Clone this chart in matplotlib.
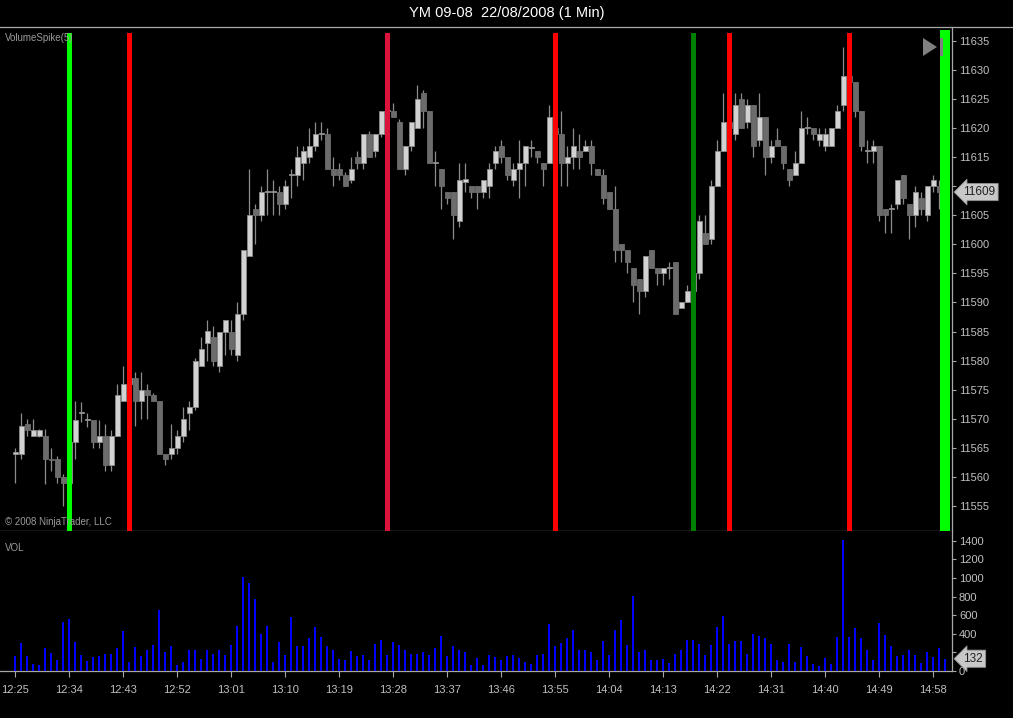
import matplotlib.pyplot as plt
from matplotlib.lines import Line2D
from matplotlib.patches import Polygon, Rectangle
import numpy as np

title = "YM 09-08  22/08/2008 (1 Min)"

# one-minute bars 12:25 .. 15:00
opens = [11564, 11564, 11569, 11567, 11567, 11567, 11563, 11563, 11560, 11559,
         11566, 11571, 11569.8, 11569.8, 11566, 11567, 11562, 11567, 11573, 11576,
         11577, 11573, 11575, 11574, 11573, 11564, 11564, 11565, 11567, 11571,
         11572, 11579, 11583, 11584, 11579, 11585, 11585, 11581, 11588, 11598,
         11606, 11605, 11609, 11609, 11609, 11607, 11612, 11612, 11614, 11615,
         11617, 11619, 11619, 11613, 11613, 11612, 11611, 11615, 11614, 11619,
         11616, 11619, 11623, 11623, 11621, 11613, 11617, 11620, 11626, 11623,
         11614, 11613, 11609, 11609, 11604, 11610.8, 11610, 11610, 11609, 11610,
         11614, 11617, 11615, 11611, 11613, 11614, 11616.5, 11616, 11614, 11614,
         11620, 11619, 11614, 11615, 11616, 11616, 11617, 11613, 11612, 11609,
         11606, 11600, 11599, 11596, 11594, 11592, 11599, 11596, 11595, 11596,
         11597, 11589, 11590, 11592, 11595, 11602, 11601, 11610, 11616, 11621,
         11619, 11625, 11621, 11624, 11618, 11622, 11615, 11618, 11617, 11613,
         11612, 11614, 11620, 11620, 11618, 11617, 11617, 11620, 11624, 11629,
         11628, 11623, 11616, 11616, 11617, 11606, 11606, 11607, 11612, 11607,
         11605, 11608, 11605, 11610, 11610, 11607]
highs = [11565, 11571, 11570, 11570, 11568.2, 11568.2, 11565, 11563.5, 11560.5, 11566.5,
         11573, 11572.8, 11571, 11569.8, 11569.8, 11569, 11568, 11576, 11579, 11579,
         11578, 11578, 11576, 11574.5, 11573, 11564, 11569, 11568, 11572, 11573,
         11580.5, 11584, 11587, 11586, 11585, 11587, 11587, 11590, 11599, 11613,
         11607, 11610, 11613, 11611, 11610, 11611, 11613, 11617, 11617, 11620,
         11621, 11621, 11620, 11615, 11614, 11612.5, 11615, 11616, 11619, 11619.5,
         11619, 11623, 11624.3, 11624.3, 11621.5, 11617, 11621, 11627.4, 11626.5, 11623,
         11616, 11613, 11609, 11609, 11614, 11614, 11610, 11610, 11611, 11614,
         11617, 11618, 11615, 11614, 11618, 11617, 11618, 11616, 11614, 11624,
         11623, 11623, 11617, 11620, 11619, 11618, 11618, 11613, 11613, 11609,
         11610, 11600, 11599, 11596, 11594, 11598, 11599, 11596, 11596, 11597,
         11597, 11590, 11593, 11596, 11605, 11605, 11611, 11618, 11626, 11626,
         11626, 11626, 11625, 11624, 11626, 11622, 11618, 11620, 11617, 11613,
         11616, 11623, 11622, 11620, 11620, 11620, 11620, 11624, 11634, 11632,
         11628, 11623, 11618, 11618, 11617, 11606, 11607, 11611, 11612, 11607,
         11610, 11609, 11610, 11612, 11611, 11612]
lows = [11559, 11563, 11567, 11567, 11566.9, 11558.8, 11561, 11559, 11555, 11557.5,
        11563, 11569.5, 11568.5, 11565, 11565, 11561, 11561, 11567, 11573, 11573,
        11568.7, 11570, 11570, 11573, 11564, 11562, 11563, 11564, 11566, 11568,
        11571.5, 11579, 11580, 11579, 11578, 11581, 11581, 11580, 11587, 11598,
        11600, 11604, 11605, 11605, 11605, 11606, 11608, 11610, 11611, 11614,
        11616, 11618, 11613, 11610, 11611, 11610, 11610.5, 11613, 11613, 11615,
        11615, 11618.5, 11621, 11622, 11613, 11612, 11616, 11620, 11620, 11614,
        11610, 11606, 11607, 11601, 11603, 11609, 11608, 11606, 11608, 11608,
        11613, 11614, 11611, 11610, 11608, 11610, 11615, 11614, 11610, 11614,
        11618, 11610, 11610, 11613, 11613, 11616, 11612, 11612, 11607, 11606,
        11597, 11597, 11595, 11590, 11588, 11591, 11596, 11593, 11593, 11594,
        11588, 11589, 11590, 11590, 11594, 11600, 11600, 11610, 11616, 11620,
        11618, 11620, 11620, 11615, 11617, 11612, 11614, 11617, 11613, 11610,
        11612, 11614, 11619, 11618, 11617, 11616, 11617, 11620, 11623, 11627,
        11622, 11616, 11614, 11614, 11604, 11602, 11602, 11606, 11607, 11601,
        11603, 11605, 11604, 11609, 11606, 11606]
closes = [11564, 11568.7, 11568, 11568, 11568, 11563, 11562.8, 11560, 11559, 11566,
          11569.8, 11571, 11569.8, 11566, 11567, 11562, 11567, 11574, 11576, 11577,
          11573, 11575, 11574, 11573, 11564, 11563, 11565, 11567, 11570, 11572,
          11580, 11582, 11585, 11580, 11585, 11587, 11582, 11588, 11599, 11605,
          11605, 11609, 11609, 11609, 11607, 11610, 11612, 11615, 11616, 11617,
          11619, 11619, 11613, 11612, 11612, 11610, 11613, 11614, 11619, 11615,
          11619, 11623, 11623, 11622, 11613, 11617, 11621, 11625, 11623, 11614,
          11614, 11610, 11608, 11605, 11611, 11611.2, 11609, 11609, 11611, 11613,
          11616, 11615, 11612, 11613, 11614, 11617, 11616.5, 11615, 11613, 11622,
          11619, 11614, 11615, 11617, 11615, 11617, 11614, 11612, 11608, 11606,
          11599, 11599, 11597, 11593, 11592, 11598, 11596, 11595, 11596, 11596,
          11588, 11590, 11592, 11595, 11604, 11600, 11610, 11616, 11621, 11620,
          11624, 11620, 11624, 11617, 11622, 11615, 11617, 11617, 11614, 11611,
          11614, 11620, 11620, 11619, 11619, 11619, 11620, 11623, 11629, 11628,
          11623, 11617, 11616, 11617, 11605, 11605, 11606, 11611, 11608, 11605,
          11609, 11606, 11610, 11611, 11609, 11609]
volumes = [164, 300, 164, 79, 68, 246, 193, 121, 528, 564,
           314, 175, 111, 154, 164, 186, 179, 246, 425, 93,
           253, 157, 221, 282, 657, 200, 264, 68, 93, 228,
           228, 132, 228, 186, 228, 175, 282, 486, 1014, 950,
           771, 400, 486, 100, 307, 175, 585, 271, 264, 353,
           468, 364, 271, 228, 132, 121, 210, 157, 175, 121,
           293, 328, 175, 307, 282, 228, 186, 186, 200, 175,
           246, 371, 164, 264, 228, 207, 68, 143, 68, 171,
           150, 121, 157, 171, 143, 96, 79, 175, 186, 503,
           271, 300, 350, 443, 228, 228, 207, 121, 318, 175,
           443, 543, 282, 807, 207, 228, 114, 121, 132, 86,
           186, 228, 336, 328, 293, 175, 282, 468, 593, 293,
           325, 318, 186, 400, 371, 350, 293, 114, 100, 286,
           100, 257, 157, 79, 57, 143, 79, 361, 1407, 361,
           457, 350, 221, 114, 521, 389, 271, 157, 175, 228,
           175, 86, 200, 146, 250, 132]

time_labels = ["12:25", "12:34", "12:43", "12:52", "13:01", "13:10", "13:19", "13:28", "13:37",
               "13:46", "13:55", "14:04", "14:13", "14:22", "14:31", "14:40", "14:49", "14:58"]
price_ticks = list(range(11555, 11640, 5))
vol_ticks = list(range(0, 1600, 200))

# VolumeSpike(5) signals
spike_bars = [9, 19, 62, 90, 113, 119, 139, 155]
spike_colors = ["#00FF00", "#FF0000", "#DC143C", "#FF0000", "#008000", "#FF0000", "#FF0000", "#00FF00"]

W, H = 1013, 718
GRAY = "#A8A8A8"
TXT = "#C0C0C0"
FONT = "Liberation Sans"

fig = plt.figure(figsize=(W / 100, H / 100), dpi=100, facecolor="black")
ax = fig.add_axes([0, (H - 531) / H, 952 / W, (531 - 27) / H], facecolor="black")
axv = fig.add_axes([0, (H - 671) / H, 952 / W, (671 - 531) / H], facecolor="black", sharex=ax)

x = np.arange(len(closes))
o = np.array(opens); c = np.array(closes)
up = c >= o

ax.vlines(x, lows, highs, color="#8C8C8C", lw=0.9, zorder=2)
body_lo = np.minimum(o, c)
body_h = np.maximum(np.abs(c - o), 0.18)
ax.bar(x[up], body_h[up], bottom=body_lo[up], width=0.85, color="#D2D2D2",
       edgecolor="#8C8C8C", lw=0.6, zorder=3)
ax.bar(x[~up], body_h[~up], bottom=body_lo[~up], width=0.85, color="#6C6C6C",
       edgecolor="#6C6C6C", lw=0.6, zorder=3)

top_frac = (531 - 35) / (531 - 27)
for b, col in zip(spike_bars, spike_colors):
    lw = 7.2 if b == len(closes) - 1 else 3.6
    ax.axvline(b, ymin=0, ymax=top_frac, color=col, lw=lw, zorder=4)

ax.set_xlim(-2.55, 156.1)
ax.set_ylim(11635 - 490 / 5.81, 11635 + 14 / 5.81)

axv.bar(x, volumes, width=0.33, color="#0000FF", zorder=3)
axv.set_ylim(0, 1400 * 140 / 130.3)

for a in (ax, axv):
    for s in ("left", "top"):
        a.spines[s].set_visible(False)
    for s in ("right", "bottom"):
        a.spines[s].set_color(GRAY)
        a.spines[s].set_linewidth(0.9)
    a.yaxis.tick_right()
    a.tick_params(axis="y", colors=GRAY, labelcolor=TXT, labelsize=8, length=3, pad=2, width=0.8)

# labels hidden behind the current-value markers are left blank
last_price = closes[-1]
last_vol = volumes[-1]
ax.set_yticks(price_ticks)
ax.set_yticklabels(["" if abs(p - last_price) < 3 else str(p) for p in price_ticks], family=FONT)
ax.tick_params(axis="x", bottom=False, labelbottom=False)

axv.set_yticks(vol_ticks)
axv.set_yticklabels(["" if abs(v - last_vol) < 100 else str(v) for v in vol_ticks], family=FONT)
axv.set_xticks(np.arange(0, 9 * len(time_labels), 9))
axv.set_xticklabels(time_labels, family=FONT)
axv.tick_params(axis="x", colors=GRAY, labelcolor=TXT, labelsize=8, length=4, pad=6, width=0.8)

# current value markers
box = dict(boxstyle="larrow,pad=0.22", fc="#C8C8C8", ec="#909090", lw=0.6)
ax.text(1.012, last_price, f"{last_price:.0f}", transform=ax.get_yaxis_transform(),
        va="center", ha="left", fontsize=8.5, color="#202020", family=FONT,
        bbox=box, zorder=6, clip_on=False)
axv.text(1.012, last_vol, f"{last_vol}", transform=axv.get_yaxis_transform(),
         va="center", ha="left", fontsize=8.5, color="#202020", family=FONT,
         bbox=box, zorder=6, clip_on=False)

# title and header line
fig.text(0.5, 1 - 13 / H, title, ha="center", va="center", color="white", fontsize=10.5, family=FONT)
fig.add_artist(Line2D([0, 1], [1 - 27 / H, 1 - 27 / H], color=GRAY, lw=0.9))

fig.text(5 / W, 1 - 38 / H, "VolumeSpike(5)", ha="left", va="center", color="#9A9A9A", fontsize=7, family=FONT)
fig.text(5 / W, 1 - 522 / H, "© 2008 NinjaTrader, LLC", ha="left", va="center", color="#9A9A9A",
         fontsize=7, family=FONT)
fig.text(5 / W, 1 - 548 / H, "VOL", ha="left", va="center", color="#9A9A9A", fontsize=7, family=FONT)

# play-button icon, top right of the price panel
fig.add_artist(Polygon([[923 / W, 1 - 38 / H], [923 / W, 1 - 56 / H], [937 / W, 1 - 47 / H]],
                       closed=True, transform=fig.transFigure, fc="#808080", ec="none", zorder=3))
fig.add_artist(Rectangle((940 / W, 1 - 56 / H), 3 / W, 18 / H, transform=fig.transFigure,
                         fc="#808080", ec="none", zorder=2))

fig.savefig("out.png", dpi=100, facecolor="black")
